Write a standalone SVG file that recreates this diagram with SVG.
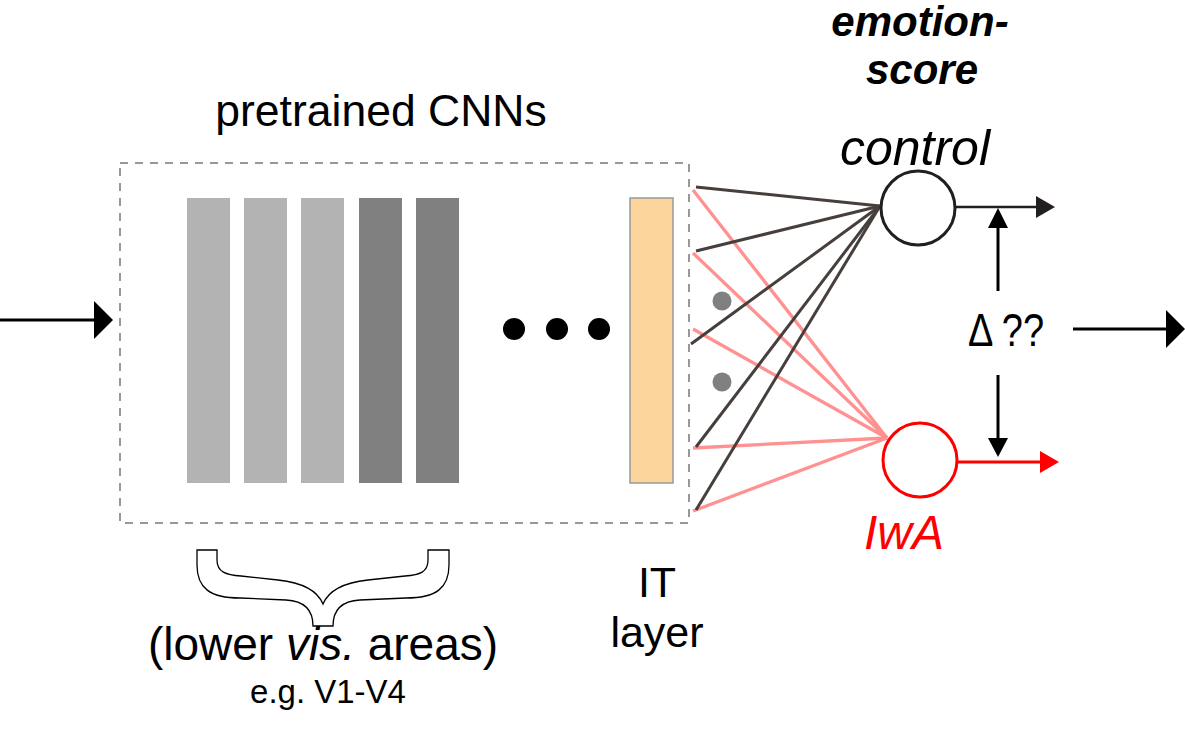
<svg xmlns="http://www.w3.org/2000/svg" width="1185" height="731" viewBox="0 0 1185 731">
<style>
.t{font-family:"Liberation Sans",Arial,sans-serif;fill:#000}
.dk{stroke:#463f3b;stroke-width:3;fill:none}
.rd{stroke:#ff9191;stroke-width:3.3;fill:none}
</style>
<rect width="1185" height="731" fill="#fff"/>
<g id="cnn-box">
<rect x="120" y="163" width="569" height="360" fill="none" stroke="#777" stroke-width="1.5" stroke-dasharray="8,7"/>
<text class="t" x="381" y="126" font-size="44.5" text-anchor="middle">pretrained CNNs</text>
</g>
<g id="layers">
<rect x="187" y="198" width="43" height="285" fill="#b3b3b3"/>
<rect x="244" y="198" width="43" height="285" fill="#b3b3b3"/>
<rect x="301" y="198" width="43" height="285" fill="#b3b3b3"/>
<rect x="359" y="198" width="43" height="285" fill="#808080"/>
<rect x="416" y="198" width="43" height="285" fill="#808080"/>
<circle cx="514" cy="329" r="11" fill="#000"/>
<circle cx="557" cy="329" r="11" fill="#000"/>
<circle cx="599" cy="329" r="11" fill="#000"/>
</g>
<g id="it-layer">
<rect x="630" y="198" width="43" height="285" fill="#fcd59c" stroke="#999" stroke-width="1.5"/>
<text class="t" x="657" y="597" font-size="43" text-anchor="middle">IT</text>
<text class="t" x="657" y="647" font-size="43" text-anchor="middle">layer</text>
</g>
<g id="brace">
<path d="M197,550 L197,565 C197,588 210,598 240,598 L286,600 C305,601 313,610 313,626 L333,626 C333,610 341,601 360,600 L406,598 C436,598 449,588 449,565 L449,550 L428,550 L428,560 C428,572 420,575 405,576 L368,580 C340,583 328,592 323,604 C318,592 306,583 278,580 L241,576 C226,575 217,572 217,560 L217,550 Z" fill="none" stroke="#000" stroke-width="1.3"/>
<text class="t" x="323" y="660" font-size="46" text-anchor="middle">(lower <tspan font-style="italic">vis.</tspan> areas)</text>
<text class="t" x="328" y="703" font-size="33" text-anchor="middle">e.g. V1-V4</text>
</g>
<g id="connectors">
<line x1="0" y1="320" x2="96" y2="320" stroke="#000" stroke-width="3"/>
<path d="M94,301L113,320L94,339Z" fill="#000"/>
<line class="rd" x1="693" y1="190" x2="887" y2="438"/>
<line class="rd" x1="693" y1="253" x2="887" y2="438"/>
<line class="rd" x1="693" y1="329" x2="887" y2="438"/>
<line class="rd" x1="693" y1="448" x2="887" y2="438"/>
<line class="rd" x1="693" y1="511" x2="887" y2="438"/>
<line class="dk" x1="696" y1="187" x2="880" y2="206"/>
<line class="dk" x1="696" y1="251" x2="880" y2="206"/>
<line class="dk" x1="691" y1="344" x2="880" y2="206"/>
<line class="dk" x1="696" y1="447" x2="880" y2="206"/>
<line class="dk" x1="696" y1="510" x2="880" y2="206"/>
<circle cx="722" cy="301" r="9.5" fill="#808080"/>
<circle cx="722" cy="382" r="9.5" fill="#808080"/>
<line x1="956" y1="207" x2="1040" y2="207" stroke="#231f20" stroke-width="2.5"/>
<path d="M1036,196L1055,207L1036,218Z" fill="#231f20"/>
<line x1="958" y1="462" x2="1044" y2="462" stroke="#f00" stroke-width="3"/>
<path d="M1040,451L1059,462L1040,473Z" fill="#f00"/>
<line x1="998" y1="291" x2="998" y2="222" stroke="#000" stroke-width="3"/>
<path d="M988,228L998,208L1008,228Z" fill="#000"/>
<line x1="998" y1="375" x2="998" y2="442" stroke="#000" stroke-width="3"/>
<path d="M988,438L998,457L1008,438Z" fill="#000"/>
<line x1="1073" y1="329" x2="1168" y2="329" stroke="#000" stroke-width="3"/>
<path d="M1166,310L1185,329L1166,348Z" fill="#000"/>
</g>
<g id="control-node">
<circle cx="918" cy="208" r="37" fill="#fff" stroke="#231f20" stroke-width="3"/>
<text class="t" x="915" y="165" font-size="50" font-style="italic" text-anchor="middle">control</text>
</g>
<g id="iwa-node">
<circle cx="920" cy="460" r="37" fill="#fff" stroke="#f00" stroke-width="3"/>
<text class="t" x="904" y="549" font-size="48" font-style="italic" text-anchor="middle" style="fill:#f00">IwA</text>
</g>
<g id="title">
<text class="t" x="920" y="36" font-size="42" font-style="italic" font-weight="bold" text-anchor="middle">emotion-</text>
<text class="t" x="922" y="84" font-size="42" font-style="italic" font-weight="bold" text-anchor="middle">score</text>
</g>
<g id="delta">
<text class="t" x="968" y="346" font-size="46" textLength="76" lengthAdjust="spacingAndGlyphs">Δ ??</text>
</g>
</svg>
